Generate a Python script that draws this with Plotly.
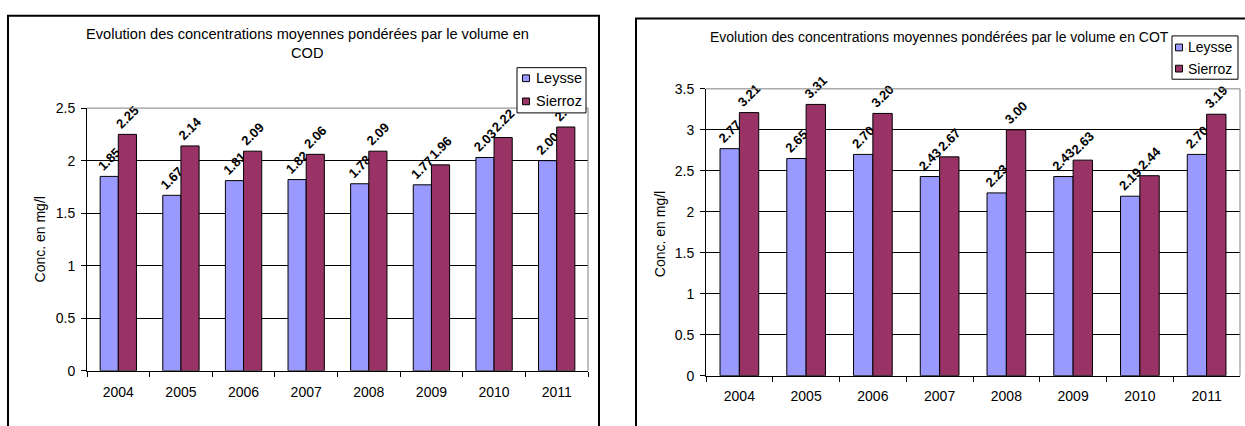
import plotly.graph_objects as go

# ---- data ----
years = ["2004", "2005", "2006", "2007", "2008", "2009", "2010", "2011"]
cod_leysse = [1.85, 1.67, 1.81, 1.82, 1.78, 1.77, 2.03, 2.00]
cod_sierroz = [2.25, 2.14, 2.09, 2.06, 2.09, 1.96, 2.22, 2.32]
cot_leysse = [2.77, 2.65, 2.70, 2.43, 2.23, 2.43, 2.19, 2.70]
cot_sierroz = [3.21, 3.31, 3.20, 2.67, 3.00, 2.63, 2.44, 3.19]
series_names = ["Leysse", "Sierroz"]
title_cod = ["Evolution des concentrations moyennes pondérées par le volume en", "COD"]
title_cot = "Evolution des concentrations moyennes pondérées par le volume en COT"
ylabel = "Conc. en mg/l"

# ---- style ----
W, H = 1245, 426
FONT = "Liberation Sans, Arial, sans-serif"
C_LEY = "#9999FF"
C_SIE = "#993366"
COLORS = [C_LEY, C_SIE]
BARGAP = 0.42


def fx(p):
    return p / W


def fy(p):
    return 1 - p / H


fig = go.Figure()

panels = [
    dict(xa="x", ya="y", ley=cod_leysse, sie=cod_sierroz),
    dict(xa="x2", ya="y2", ley=cot_leysse, sie=cot_sierroz),
]

for p in panels:
    for name, vals, col in ((series_names[0], p["ley"], C_LEY), (series_names[1], p["sie"], C_SIE)):
        fig.add_trace(go.Bar(
            x=years, y=vals, name=name, xaxis=p["xa"], yaxis=p["ya"], showlegend=False,
            marker=dict(color=col, line=dict(color="#000000", width=1)),
            text=vals, texttemplate="<b>%{y:.2f}</b>", textposition="outside",
            textangle=-45, constraintext="none", cliponaxis=False,
            textfont=dict(family=FONT, size=13, color="#000"),
            hoverinfo="x+y",
        ))

axis_common = dict(
    showline=True, linecolor="#000", linewidth=1,
    ticks="outside", ticklen=5, tickcolor="#000",
    tickfont=dict(family=FONT, size=14, color="#000"),
    zeroline=False, fixedrange=True,
)

# panel geometry (px)
L = dict(l=87, r=588, t=104, b=377)
R = dict(l=706, r=1240, t=84, b=382)

fig.update_layout(
    width=W, height=H,
    margin=dict(l=0, r=0, t=0, b=0),
    paper_bgcolor="white", plot_bgcolor="white",
    barmode="group", bargap=BARGAP, bargroupgap=0,
    font=dict(family=FONT, color="#000"),
    showlegend=False,
    xaxis=dict(domain=[fx(L["l"]), fx(L["r"])], anchor="y", type="category",
               tickson="boundaries", showgrid=False, ticklabelstandoff=8, **axis_common),
    yaxis=dict(domain=[fy(L["b"]), fy(L["t"])], anchor="x", range=[0, 2.5], dtick=0.5,
               showgrid=True, gridcolor="#000", gridwidth=1, ticklabelstandoff=3, **axis_common),
    xaxis2=dict(domain=[fx(R["l"]), fx(R["r"])], anchor="y2", type="category",
                tickson="boundaries", showgrid=False, ticklabelstandoff=8, **axis_common),
    yaxis2=dict(domain=[fy(R["b"]), fy(R["t"])], anchor="x2", range=[0, 3.5], dtick=0.5,
                showgrid=True, gridcolor="#000", gridwidth=1, ticklabelstandoff=3, **axis_common),
)

# titles
fig.add_annotation(x=fx(307), y=fy(27), xref="paper", yref="paper", text=title_cod[0],
                   showarrow=False, xanchor="center", yanchor="middle",
                   font=dict(family=FONT, size=14.6, color="#000"))
fig.add_annotation(x=fx(307), y=fy(47), xref="paper", yref="paper", text=title_cod[1],
                   showarrow=False, xanchor="center", yanchor="middle",
                   font=dict(family=FONT, size=14.6, color="#000"))
fig.add_annotation(x=fx(940), y=fy(30), xref="paper", yref="paper", text=title_cot,
                   showarrow=False, xanchor="center", yanchor="middle",
                   font=dict(family=FONT, size=14, color="#000"))
# y axis titles
fig.add_annotation(x=fx(40), y=fy((L["t"] + L["b"]) / 2), xref="paper", yref="paper", text=ylabel,
                   showarrow=False, textangle=-90, xanchor="center", yanchor="middle",
                   font=dict(family=FONT, size=14, color="#000"))
fig.add_annotation(x=fx(660), y=fy(235), xref="paper", yref="paper", text=ylabel,
                   showarrow=False, textangle=-90, xanchor="center", yanchor="middle",
                   font=dict(family=FONT, size=14, color="#000"))

# plot-area border (top and right, grey)
for xa, ya in (("x", "y"), ("x2", "y2")):
    fig.add_shape(type="line", xref=xa + " domain", yref=ya + " domain", x0=0, x1=1, y0=1, y1=1,
                  line=dict(color="#808080", width=1), layer="above")
    fig.add_shape(type="line", xref=xa + " domain", yref=ya + " domain", x0=1, x1=1, y0=0, y1=1,
                  line=dict(color="#808080", width=1), layer="above")

# legends (box, swatches, labels)
legends = [
    dict(x0=517, x1=586, y0=62, y1=109, sw=526, tx=534, rows=[73, 97], fs=14.5),
    dict(x0=1172, x1=1238, y0=29, y1=74, sw=1179, tx=1186, rows=[41, 63], fs=14),
]
for lg in legends:
    fig.add_shape(type="rect", xref="paper", yref="paper", x0=fx(lg["x0"]), x1=fx(lg["x1"]),
                  y0=fy(lg["y1"]), y1=fy(lg["y0"]), line=dict(color="#000", width=1),
                  fillcolor="white", layer="above")
    for name, col, ry in zip(series_names, COLORS, lg["rows"]):
        fig.add_shape(type="rect", xref="paper", yref="paper", x0=fx(lg["sw"] - 3.5), x1=fx(lg["sw"] + 3.5),
                      y0=fy(ry + 3.5), y1=fy(ry - 3.5), line=dict(color="#000", width=1),
                      fillcolor=col, layer="above")
        fig.add_annotation(x=fx(lg["tx"]), y=fy(ry), xref="paper", yref="paper", text=name,
                           showarrow=False, xanchor="left", yanchor="middle",
                           font=dict(family=FONT, size=lg["fs"], color="#000"))

# chart frames
fig.add_shape(type="rect", xref="paper", yref="paper", x0=fx(8), x1=fx(599), y0=-0.05, y1=fy(8),
              line=dict(color="#000", width=2), fillcolor="rgba(0,0,0,0)", layer="below")
fig.add_shape(type="rect", xref="paper", yref="paper", x0=fx(636), x1=1.05, y0=-0.05, y1=fy(11),
              line=dict(color="#000", width=2), fillcolor="rgba(0,0,0,0)", layer="below")

POST = "document.body.style.margin='0';document.body.style.overflow='hidden';"
fig.write_html("out.html", config={"displayModeBar": False}, post_script=POST)
